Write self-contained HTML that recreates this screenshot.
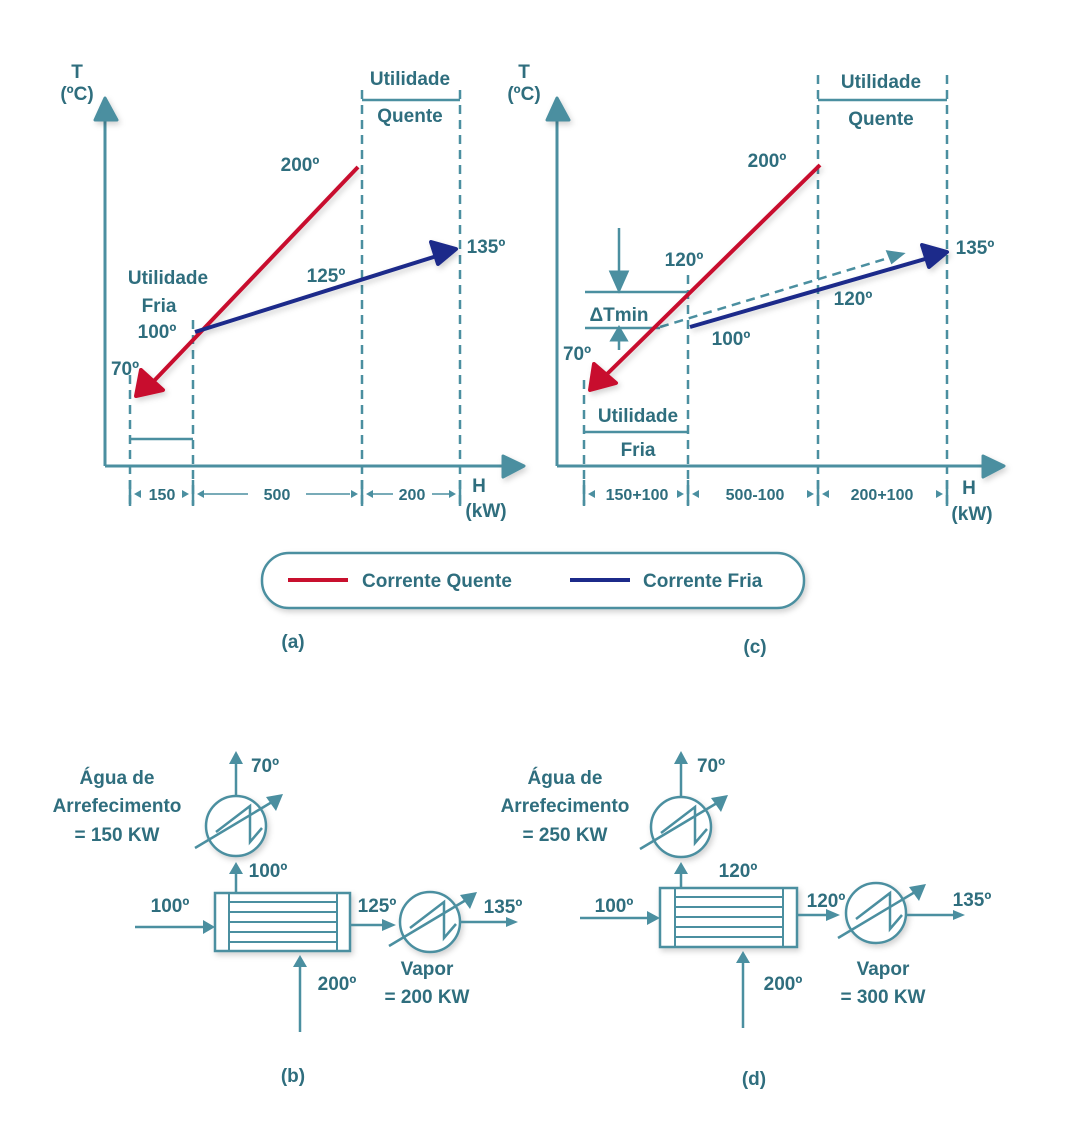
<!DOCTYPE html>
<html><head><meta charset="utf-8">
<style>
html,body{margin:0;padding:0;background:#fff;}
svg{display:block;}
text{font-family:"Liberation Sans","DejaVu Sans",sans-serif;font-weight:bold;fill:#2f6e7e;font-size:19px;}
.s{font-size:16px;}
</style></head><body>
<svg width="1080" height="1128" viewBox="0 0 1080 1128" xmlns="http://www.w3.org/2000/svg">
<defs>
<marker id="ta" viewBox="0 0 10 10" refX="9" refY="5" markerWidth="7" markerHeight="7" orient="auto-start-reverse" markerUnits="userSpaceOnUse"><path d="M0,0 L10,5 L0,10 z" fill="#4b8fa0"/></marker>
<marker id="tb" viewBox="0 0 10 10" refX="9" refY="5" markerWidth="14" markerHeight="14" orient="auto" markerUnits="userSpaceOnUse"><path d="M0,1 L10,5 L0,9 z" fill="#4b8fa0" stroke="#4b8fa0" stroke-width="1.5" stroke-linejoin="round"/></marker>
<filter id="sh" x="-20%" y="-20%" width="140%" height="140%"><feDropShadow dx="2" dy="3" stdDeviation="3" flood-color="#000" flood-opacity="0.18"/></filter>
</defs>
<g fill="none" stroke="#4b8fa0" stroke-width="3">
<!-- chart a axes -->
<path d="M105,466 V118 M105,466 H505"/>
<path d="M95,120 L105,98 L117,120 Z M503,456 L524,466 L503,477 Z" fill="#4b8fa0" stroke-linejoin="round" filter="url(#sh)"/>
<g stroke-dasharray="9,6" stroke-width="2.5">
<path d="M130,375 V505 M193,320 V505 M362,90 V505 M460,90 V505"/>
</g>
<path d="M362,100 H460 M130,439 H193" stroke-width="2.5"/>
<path d="M130,480 V506 M193,480 V506 M362,480 V506 M460,480 V506" stroke-width="2.5"/>
<g stroke-width="1.5" marker-end="url(#ta)" marker-start="url(#ta)">
</g>
<!-- chart c axes -->
<path d="M557,466 V118 M557,466 H985"/>
<path d="M547,120 L557,98 L569,120 Z M983,456 L1004,466 L983,477 Z" fill="#4b8fa0" stroke-linejoin="round" filter="url(#sh)"/>
<g stroke-dasharray="9,6" stroke-width="2.5">
<path d="M584,380 V505 M688,275 V505 M818,75 V505 M947,75 V505"/>
<path d="M660,327 L895,256" stroke-width="2.5"/>
</g>
<path d="M818,100 H947 M584,432 H688 M585,292 H688 M585,328 H660" stroke-width="2.5"/>
<path d="M584,480 V506 M688,480 V506 M818,480 V506 M947,480 V506" stroke-width="2.5"/>
<path d="M619,228 V275 M619,350 V340" stroke-width="2.5"/>
<path d="M611,272 L619,290 L627,272 Z M612,340 L619,328 L626,340 Z" fill="#4b8fa0"/>
<path d="M888,252 L902,254 L892,262 Z" fill="#4b8fa0"/>
</g>
<!-- dimension small arrows -->
<g fill="#4b8fa0">
<path d="M134,494 l7,-4 v8z M189,494 l-7,-4 v8z M197,494 l7,-4 v8z M358,494 l-7,-4 v8z M366,494 l7,-4 v8z M456,494 l-7,-4 v8z"/>
<path d="M588,494 l7,-4 v8z M684,494 l-7,-4 v8z M692,494 l7,-4 v8z M814,494 l-7,-4 v8z M822,494 l7,-4 v8z M943,494 l-7,-4 v8z"/>
</g>
<g stroke="#4b8fa0" stroke-width="1.5">
<path d="M204,494 H248 M306,494 H350 M373,494 H393 M432,494 H452"/>
</g>
<!-- red/blue lines a -->
<g filter="url(#sh)">
<path d="M358,167 L152,383" stroke="#c8102e" stroke-width="4" fill="none"/>
<path d="M136,396 L141,370 L163,390 Z" fill="#c8102e" stroke="#c8102e" stroke-width="4" stroke-linejoin="round"/>
<path d="M195,332 L440,255" stroke="#1c2a8a" stroke-width="4" fill="none"/>
<path d="M456,249 L431,242 L438,264 Z" fill="#1c2a8a" stroke="#1c2a8a" stroke-width="4" stroke-linejoin="round"/>
<!-- c -->
<path d="M820,165 L603,378" stroke="#c8102e" stroke-width="4" fill="none"/>
<path d="M590,390 L594,364 L616,383 Z" fill="#c8102e" stroke="#c8102e" stroke-width="4" stroke-linejoin="round"/>
<path d="M690,327 L932,257" stroke="#1c2a8a" stroke-width="4" fill="none"/>
<path d="M947,252 L922,245 L929,267 Z" fill="#1c2a8a" stroke="#1c2a8a" stroke-width="4" stroke-linejoin="round"/>
</g>
<!-- texts chart a -->
<text x="77" y="78" text-anchor="middle">T</text>
<text x="77" y="100" text-anchor="middle">(ºC)</text>
<text x="410" y="85" text-anchor="middle">Utilidade</text>
<text x="410" y="122" text-anchor="middle">Quente</text>
<text x="300" y="171" text-anchor="middle">200º</text>
<text x="326" y="282" text-anchor="middle">125º</text>
<text x="486" y="253" text-anchor="middle">135º</text>
<text x="168" y="284" text-anchor="middle">Utilidade</text>
<text x="159" y="312" text-anchor="middle">Fria</text>
<text x="157" y="338" text-anchor="middle">100º</text>
<text x="125" y="375" text-anchor="middle">70º</text>
<text x="162" y="500" text-anchor="middle" class="s">150</text>
<text x="277" y="500" text-anchor="middle" class="s">500</text>
<text x="412" y="500" text-anchor="middle" class="s">200</text>
<text x="479" y="492" text-anchor="middle">H</text>
<text x="486" y="517" text-anchor="middle">(kW)</text>
<!-- texts chart c -->
<text x="524" y="78" text-anchor="middle">T</text>
<text x="524" y="100" text-anchor="middle">(ºC)</text>
<text x="881" y="88" text-anchor="middle">Utilidade</text>
<text x="881" y="125" text-anchor="middle">Quente</text>
<text x="767" y="167" text-anchor="middle">200º</text>
<text x="684" y="266" text-anchor="middle">120º</text>
<text x="975" y="254" text-anchor="middle">135º</text>
<text x="853" y="305" text-anchor="middle">120º</text>
<text x="731" y="345" text-anchor="middle">100º</text>
<text x="577" y="360" text-anchor="middle">70º</text>
<text x="619" y="321" text-anchor="middle">ΔTmin</text>
<text x="638" y="422" text-anchor="middle">Utilidade</text>
<text x="638" y="456" text-anchor="middle">Fria</text>
<text x="637" y="500" text-anchor="middle" class="s">150+100</text>
<text x="755" y="500" text-anchor="middle" class="s">500-100</text>
<text x="882" y="500" text-anchor="middle" class="s">200+100</text>
<text x="969" y="494" text-anchor="middle">H</text>
<text x="972" y="520" text-anchor="middle">(kW)</text>
<!-- legend -->
<rect x="262" y="553" width="542" height="55" rx="27" fill="#fff" stroke="#4b8fa0" stroke-width="2.5" filter="url(#sh)"/>
<path d="M288,580 H348" stroke="#c8102e" stroke-width="4"/>
<path d="M570,580 H630" stroke="#1c2a8a" stroke-width="4"/>
<text x="362" y="587">Corrente Quente</text>
<text x="643" y="587">Corrente Fria</text>
<text x="293" y="648" text-anchor="middle">(a)</text>
<text x="755" y="653" text-anchor="middle">(c)</text>

<!-- (b) -->
<g fill="none" stroke="#4b8fa0" stroke-width="2.5">
<g filter="url(#sh)">
<rect x="215" y="893" width="135" height="58" fill="#fff"/>
<circle cx="236" cy="826" r="30" fill="#fff"/>
<circle cx="430" cy="922" r="30" fill="#fff"/>
</g>
<path d="M229,893 V951 M337,893 V951 M229,902 H337 M229,912 H337 M229,922 H337 M229,932 H337 M229,942 H337" stroke-width="2"/>
<path d="M135,927 H204 M236,893 V872 M236,796 V762 M300,1032 V966 M350,925 H384 M460,922 H508"/>
<path d="M195,848 L272,802 M389,946 L466,900"/>
<path d="M216,832 L250,806 V842 L262,828 M410,928 L444,902 V938 L456,924"/>
</g>
<g fill="#4b8fa0">
<path d="M203,920 L215,927 L203,934 Z M229,874 L236,862 L243,874 Z M229,764 L236,751 L243,764 Z M293,967 L300,955 L307,967 Z M382,919 L396,925 L382,931 Z M506,917 L518,922 L506,927 Z"/>
<path d="M283,794 L266,797 L276,811 Z M477,892 L460,895 L470,909 Z"/>
</g>
<text x="117" y="784" text-anchor="middle">Água de</text>
<text x="117" y="812" text-anchor="middle">Arrefecimento</text>
<text x="117" y="841" text-anchor="middle">= 150 KW</text>
<text x="265" y="772" text-anchor="middle">70º</text>
<text x="268" y="877" text-anchor="middle">100º</text>
<text x="170" y="912" text-anchor="middle">100º</text>
<text x="377" y="912" text-anchor="middle">125º</text>
<text x="503" y="913" text-anchor="middle">135º</text>
<text x="337" y="990" text-anchor="middle">200º</text>
<text x="427" y="975" text-anchor="middle">Vapor</text>
<text x="427" y="1003" text-anchor="middle">= 200 KW</text>
<text x="293" y="1082" text-anchor="middle">(b)</text>

<!-- (d) -->
<g fill="none" stroke="#4b8fa0" stroke-width="2.5">
<g filter="url(#sh)">
<rect x="660" y="888" width="137" height="59" fill="#fff"/>
<circle cx="681" cy="827" r="30" fill="#fff"/>
<circle cx="876" cy="913" r="30" fill="#fff"/>
</g>
<path d="M675,888 V947 M783,888 V947 M675,897 H783 M675,907 H783 M675,917 H783 M675,927 H783 M675,937 H783" stroke-width="2"/>
<path d="M580,918 H648 M681,888 V872 M681,797 V762 M743,1028 V962 M797,915 H828 M906,915 H955"/>
<path d="M640,849 L717,803 M838,938 L915,892"/>
<path d="M661,833 L695,807 V843 L707,829 M856,919 L890,893 V929 L902,915"/>
</g>
<g fill="#4b8fa0">
<path d="M647,911 L660,918 L647,925 Z M674,874 L681,862 L688,874 Z M674,764 L681,751 L688,764 Z M736,963 L743,951 L750,963 Z M826,909 L840,915 L826,921 Z M953,910 L965,915 L953,920 Z"/>
<path d="M728,795 L711,798 L721,812 Z M926,884 L909,887 L919,901 Z"/>
</g>
<text x="565" y="784" text-anchor="middle">Água de</text>
<text x="565" y="812" text-anchor="middle">Arrefecimento</text>
<text x="565" y="841" text-anchor="middle">= 250 KW</text>
<text x="711" y="772" text-anchor="middle">70º</text>
<text x="738" y="877" text-anchor="middle">120º</text>
<text x="614" y="912" text-anchor="middle">100º</text>
<text x="826" y="907" text-anchor="middle">120º</text>
<text x="972" y="906" text-anchor="middle">135º</text>
<text x="783" y="990" text-anchor="middle">200º</text>
<text x="883" y="975" text-anchor="middle">Vapor</text>
<text x="883" y="1003" text-anchor="middle">= 300 KW</text>
<text x="754" y="1085" text-anchor="middle">(d)</text>
</svg>
</body></html>
